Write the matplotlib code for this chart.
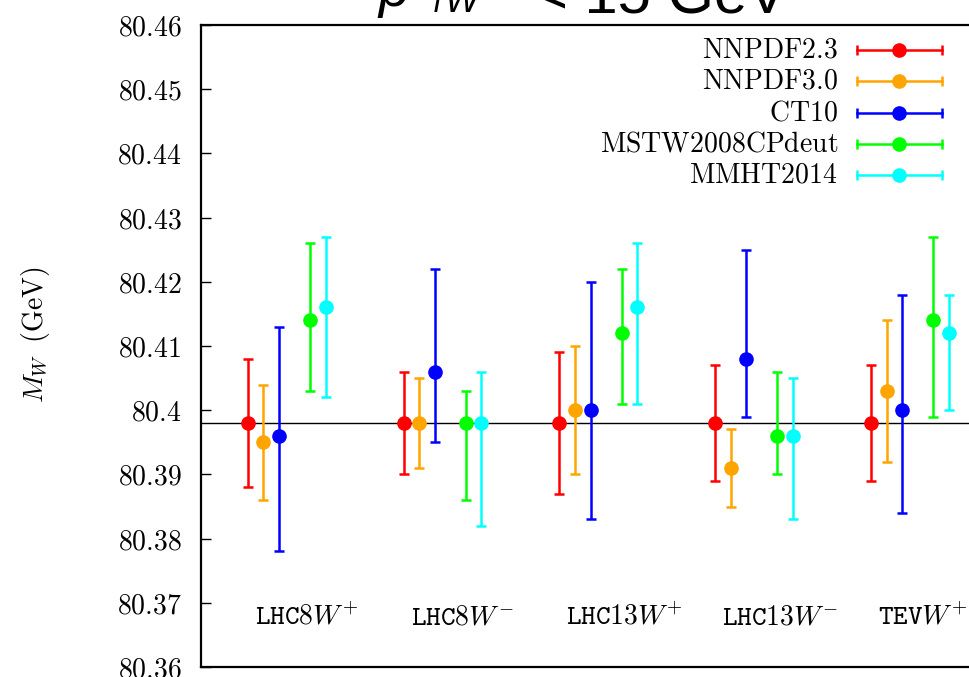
import matplotlib
matplotlib.use("Agg")
import matplotlib.pyplot as plt
from matplotlib.lines import Line2D
import numpy as np

plt.rcParams['mathtext.fontset'] = 'cm'
plt.rcParams['font.family'] = ['DejaVu Serif']

# ---- data ----
categories = [r'$\mathtt{LHC8}W^{+}$', r'$\mathtt{LHC8}W^{-}$', r'$\mathtt{LHC13}W^{+}$',
              r'$\mathtt{LHC13}W^{-}$', r'$\mathtt{TEV}W^{+}$']
pdf_names = ['NNPDF2.3', 'NNPDF3.0', 'CT10', 'MSTW2008CPdeut', 'MMHT2014']
pdf_colors = ['#ff0000', '#ffa500', '#0000ff', '#00ff00', '#00ffff']
slot_offsets = [0, 1, 2, 4, 5]
group_width = 10

central = {
    'NNPDF2.3':       [80.398, 80.398, 80.398, 80.398, 80.398],
    'NNPDF3.0':       [80.395, 80.398, 80.400, 80.391, 80.403],
    'CT10':           [80.396, 80.406, 80.400, 80.408, 80.400],
    'MSTW2008CPdeut': [80.414, 80.398, 80.412, 80.396, 80.414],
    'MMHT2014':       [80.416, 80.398, 80.416, 80.396, 80.412],
}
upper = {
    'NNPDF2.3':       [80.408, 80.406, 80.409, 80.407, 80.407],
    'NNPDF3.0':       [80.404, 80.405, 80.410, 80.397, 80.414],
    'CT10':           [80.413, 80.422, 80.420, 80.425, 80.418],
    'MSTW2008CPdeut': [80.426, 80.403, 80.422, 80.406, 80.427],
    'MMHT2014':       [80.427, 80.406, 80.426, 80.405, 80.418],
}
lower = {
    'NNPDF2.3':       [80.388, 80.390, 80.387, 80.389, 80.389],
    'NNPDF3.0':       [80.386, 80.391, 80.390, 80.385, 80.392],
    'CT10':           [80.378, 80.395, 80.383, 80.399, 80.384],
    'MSTW2008CPdeut': [80.403, 80.386, 80.401, 80.390, 80.399],
    'MMHT2014':       [80.402, 80.382, 80.401, 80.383, 80.400],
}
reference_mw = 80.398
yticks = [80.36, 80.37, 80.38, 80.39, 80.40, 80.41, 80.42, 80.43, 80.44, 80.45, 80.46]
ytick_labels = ['80.36', '80.37', '80.38', '80.39', '80.4', '80.41', '80.42',
                '80.43', '80.44', '80.45', '80.46']

# ---- figure ----
W, H = 970, 677
fig = plt.figure(figsize=(W / 100, H / 100), dpi=100)
ax = fig.add_axes([201 / W, 1 - 667 / H, 779 / W, 642 / H])

MS = 9.5
LW = 1.8
n = len(categories)
for name, col, off in zip(pdf_names, pdf_colors, slot_offsets):
    x = np.arange(n) * group_width + off
    c = np.array(central[name])
    up = np.array(upper[name]) - c
    lo = c - np.array(lower[name])
    ax.errorbar(x, c, yerr=[lo, up], fmt='o', color=col, ms=MS, elinewidth=LW,
                capsize=3.6, capthick=LW, zorder=3)

ax.axhline(reference_mw, color='black', lw=1.0, zorder=2)

ax.set_xlim(-3, 47)
ax.set_ylim(80.36, 80.46)
ax.set_xticks([])
ax.set_yticks(yticks)
ax.set_yticklabels(['$' + t + '$' for t in ytick_labels], fontsize=20)
ax.tick_params(axis='y', direction='in', length=7, width=1.0, right=True, pad=14)
for s in ax.spines.values():
    s.set_linewidth(1.6)

# category labels (left-aligned just right of each group's first point)
for i, lab in enumerate(categories):
    ax.text(i * group_width + 0.45, 0.078, lab, transform=ax.get_xaxis_transform(),
            ha='left', va='center', fontsize=20)

# legend (gnuplot style: label right-aligned, horizontal error-bar sample)
fig_px = fig.transFigure
row0, row_step = 50, 31.3
for i, (name, col) in enumerate(zip(pdf_names, pdf_colors)):
    yp = 1 - (row0 + i * row_step) / H
    fig.text(838 / W, yp, r'$\mathrm{' + name + '}$', ha='right', va='center',
             fontsize=20)
    xs = [857 / W, 942 / W]
    fig.add_artist(Line2D(xs, [yp, yp], color=col, lw=LW, transform=fig_px))
    fig.add_artist(Line2D(xs, [yp, yp], ls='none', marker='|', ms=7.5, mew=LW,
                          color=col, transform=fig_px))
    fig.add_artist(Line2D([(xs[0] + xs[1]) / 2], [yp], ls='none', marker='o', ms=MS,
                          color=col, transform=fig_px))

# y label
fig.text(36 / W, 1 - 335 / H, r'$M_W\;\;\mathrm{(GeV)}$', rotation=90, ha='center',
         va='center', fontsize=20)

# title (only lower part visible in the frame)
tf = 'Liberation Sans'
fig.text(378 / W, 1 - 6 / H, 'p', ha='left', va='baseline', fontsize=40,
         family=tf, style='italic')
fig.text(427 / W, 1 - 12 / H, 'T', ha='left', va='baseline', fontsize=22,
         family=tf, style='italic')
fig.text(445 / W, 1 - 12 / H, 'W', ha='left', va='baseline', fontsize=26,
         family=tf, style='italic')
fig.text(533 / W, 1 - 13 / H, '< 15 GeV', ha='left', va='baseline', fontsize=43,
         family=tf)

fig.savefig('out.png', dpi=100)
